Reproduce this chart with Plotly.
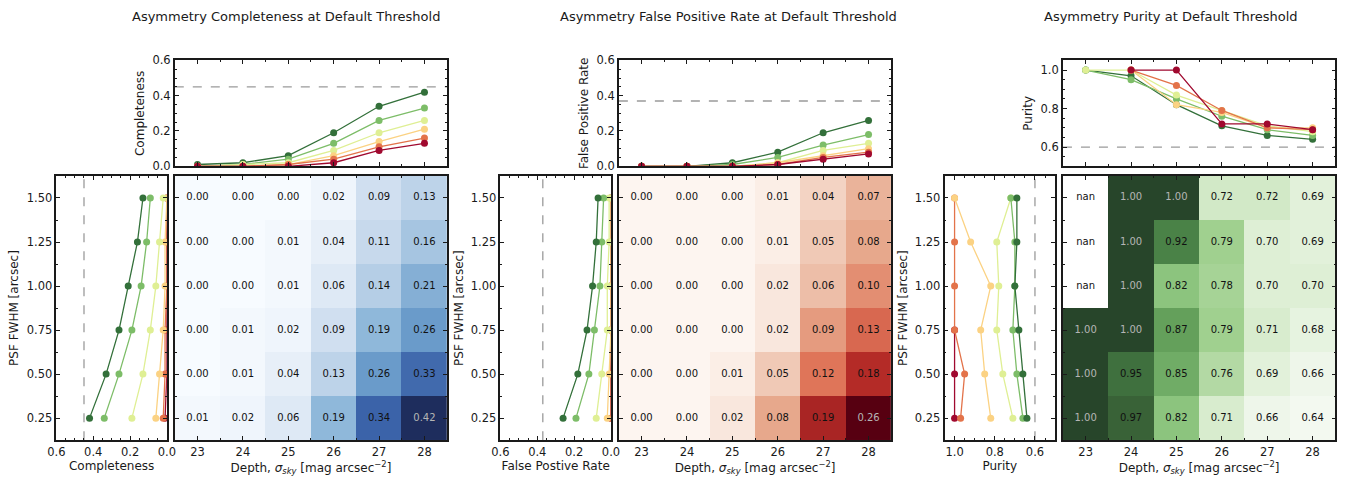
import plotly.graph_objects as go

# ---------------- data ----------------
depths = [23, 24, 25, 26, 27, 28]
psf = [0.25, 0.50, 0.75, 1.00, 1.25, 1.50]

# rows: PSF 0.25 ... 1.50 ; columns: depth 23 ... 28
completeness = [
    [0.01, 0.02, 0.06, 0.19, 0.34, 0.42],
    [0.00, 0.01, 0.04, 0.13, 0.26, 0.33],
    [0.00, 0.01, 0.02, 0.09, 0.19, 0.26],
    [0.00, 0.00, 0.01, 0.06, 0.14, 0.21],
    [0.00, 0.00, 0.01, 0.04, 0.11, 0.16],
    [0.00, 0.00, 0.00, 0.02, 0.09, 0.13],
]
false_positive = [
    [0.00, 0.00, 0.02, 0.08, 0.19, 0.26],
    [0.00, 0.00, 0.01, 0.05, 0.12, 0.18],
    [0.00, 0.00, 0.00, 0.02, 0.09, 0.13],
    [0.00, 0.00, 0.00, 0.02, 0.06, 0.10],
    [0.00, 0.00, 0.00, 0.01, 0.05, 0.08],
    [0.00, 0.00, 0.00, 0.01, 0.04, 0.07],
]
purity = [
    [1.00, 0.97, 0.82, 0.71, 0.66, 0.64],
    [1.00, 0.95, 0.85, 0.76, 0.69, 0.66],
    [1.00, 1.00, 0.87, 0.79, 0.71, 0.68],
    [None, 1.00, 0.82, 0.78, 0.70, 0.70],
    [None, 1.00, 0.92, 0.79, 0.70, 0.69],
    [None, 1.00, 1.00, 0.72, 0.72, 0.69],
]
thresholds = [0.45, 0.37, 0.60]

titles = [
    "Asymmetry Completeness at Default Threshold",
    "Asymmetry False Positive Rate at Default Threshold",
    "Asymmetry Purity at Default Threshold",
]
top_ytitles = ["Completeness", "False Positive Rate", "Purity"]
left_xtitles = ["Completeness", "False Postive Rate", "Purity"]
depth_title = "Depth, <i>σ</i><sub><i>sky</i></sub> [mag arcsec<sup>−2</sup>]"
psf_title = "PSF FWHM [arcsec]"

# ---------------- styles ----------------
W, H = 1368, 486
FONT = "DejaVu Sans"
INK = "#1a1a1a"
level_colors = ["#33703a", "#7dbd68", "#dfef94", "#fbd283", "#e3734a", "#a0092f"]

scales = [
    [[0, "#f7fbff"], [0.14, "#dfe9f5"], [0.31, "#bdd3e9"], [0.45, "#90b8da"],
     [0.62, "#6a9bca"], [0.81, "#3b63a9"], [1, "#1e2d5d"]],
    [[0, "#fdf5f0"], [0.08, "#f9e6dc"], [0.19, "#f0cab7"], [0.31, "#e7a78b"],
     [0.46, "#df7559"], [0.69, "#b52b27"], [1, "#570011"]],
    [[0, "#f3f9f0"], [0.056, "#eef6ea"], [0.167, "#deefd5"], [0.22, "#d3e9c8"],
     [0.33, "#b4d9a5"], [0.417, "#a0d08f"], [0.5, "#8cc47e"], [0.583, "#70ac66"],
     [0.64, "#64a05b"], [0.78, "#4a8247"], [0.88, "#3d6c3c"], [0.93, "#375f35"],
     [1, "#27452a"]],
]
zranges = [(0, 0.42), (0, 0.26), (0.64, 1.0)]
top_yranges = [[0, 0.6], [0, 0.6], [0.5, 1.05]]
left_xranges = [[0.6, 0], [0.6, 0], [1.05, 0.5]]
metric_ticks = [[0, 0.2, 0.4, 0.6], [0, 0.2, 0.4, 0.6], [0.6, 0.8, 1.0]]

datasets = [completeness, false_positive, purity]


def dom_x(a, b):
    return [a / W, b / W]


def dom_y(top, bottom):
    return [1 - bottom / H, 1 - top / H]


def minor(dtick, tick0):
    return dict(ticks="inside", ticklen=2, tickwidth=1, tickcolor=INK,
                dtick=dtick, tick0=tick0)


def axis_style(**kw):
    d = dict(
        showline=True, linecolor=INK, linewidth=1.6, mirror="allticks",
        ticks="inside", ticklen=4, tickwidth=1.2, tickcolor=INK,
        showgrid=False, zeroline=False,
        tickfont=dict(family=FONT, size=11.5, color=INK),
    )
    d.update(kw)
    return d


def ax(n):
    return "x" if n == 1 else f"x{n}"


def ay(n):
    return "y" if n == 1 else f"y{n}"


fig = go.Figure()
layout = dict(
    width=W, height=H, margin=dict(l=0, r=0, t=0, b=0),
    paper_bgcolor="white", plot_bgcolor="white", showlegend=False,
    font=dict(family=FONT, size=11, color=INK),
    shapes=[], annotations=[],
)

for p in range(3):
    data = datasets[p]
    off = 450 * p
    a_top, a_left, a_hm = 3 * p + 1, 3 * p + 2, 3 * p + 3

    # ---- top line plot: metric vs depth, one line per PSF ----
    for i, s in enumerate(psf):
        fig.add_trace(go.Scatter(
            x=depths, y=data[i], mode="lines+markers",
            line=dict(color=level_colors[i], width=1.3),
            marker=dict(color=level_colors[i], size=7),
            xaxis=ax(a_top), yaxis=ay(a_top), hoverinfo="skip",
        ))
    # ---- left line plot: metric vs PSF, one line per depth ----
    for j in range(len(depths)):
        col = [data[i][j] for i in range(len(psf))]
        c = level_colors[len(depths) - 1 - j]
        fig.add_trace(go.Scatter(
            x=col, y=psf, mode="lines+markers",
            line=dict(color=c, width=1.3), marker=dict(color=c, size=7),
            xaxis=ax(a_left), yaxis=ay(a_left), hoverinfo="skip",
        ))
    # ---- heatmap ----
    zmin, zmax = zranges[p]
    fig.add_trace(go.Heatmap(
        x=depths, y=psf, z=data, colorscale=scales[p], zmin=zmin, zmax=zmax,
        showscale=False, xaxis=ax(a_hm), yaxis=ay(a_hm), hoverinfo="skip",
    ))
    vals = [v for row in data for v in row if v is not None]
    vmax = max(vals)
    tx, ty, tt, tc = [], [], [], []
    for i, s in enumerate(psf):
        for j, d in enumerate(depths):
            v = data[i][j]
            tx.append(d)
            ty.append(s)
            tt.append("nan" if v is None else f"{v:.2f}")
            tc.append("#b5b5b5" if (v is not None and v >= 0.98 * vmax) else "#111111")
    fig.add_trace(go.Scatter(
        x=tx, y=ty, text=tt, mode="text",
        textfont=dict(family=FONT, size=10, color=tc),
        xaxis=ax(a_hm), yaxis=ay(a_hm), hoverinfo="skip",
    ))

    # ---- axes ----
    hx = dom_x(168 + off, 444 + off)
    layout[f"xaxis{a_top}"] = axis_style(
        domain=hx, range=[22.5, 28.5], anchor=ay(a_top), tickvals=depths,
        showticklabels=False, minor=minor(0.5, 22.5),
    )
    layout[f"yaxis{a_top}"] = axis_style(
        domain=dom_y(55, 164), range=top_yranges[p], anchor=ax(a_top),
        tickvals=metric_ticks[p], tickformat=".1f",
        title=dict(text=top_ytitles[p], font=dict(family=FONT, size=12), standoff=5),
        minor=minor(0.05, 0),
    )
    layout[f"xaxis{a_left}"] = axis_style(
        domain=dom_x(48 + off, 160 + off), range=left_xranges[p], anchor=ay(a_left),
        tickvals=metric_ticks[p], tickformat=".1f",
        title=dict(text=left_xtitles[p], font=dict(family=FONT, size=12), standoff=4),
        minor=minor(0.05, 0),
    )
    layout[f"yaxis{a_left}"] = axis_style(
        domain=dom_y(174, 446), range=[0.125, 1.625], anchor=ax(a_left),
        tickvals=psf, tickformat=".2f",
        title=dict(text=psf_title, font=dict(family=FONT, size=12), standoff=5),
        minor=minor(0.125, 0.125),
    )
    layout[f"xaxis{a_hm}"] = axis_style(
        domain=hx, range=[22.5, 28.5], anchor=ay(a_hm), tickvals=depths,
        title=dict(text=depth_title, font=dict(family=FONT, size=12), standoff=4),
        minor=minor(0.5, 22.5),
    )
    layout[f"yaxis{a_hm}"] = axis_style(
        domain=dom_y(174, 446), range=[0.125, 1.625], anchor=ax(a_hm),
        tickvals=psf, showticklabels=False, minor=minor(0.125, 0.125),
    )

    # ---- threshold lines ----
    thr = thresholds[p]
    layout["shapes"].append(dict(
        type="line", xref=f"{ax(a_top)} domain", yref=ay(a_top),
        x0=0, x1=1, y0=thr, y1=thr, layer="below",
        line=dict(color="#9a9a9a", width=1.3, dash="dash"),
    ))
    layout["shapes"].append(dict(
        type="line", xref=ax(a_left), yref=f"{ay(a_left)} domain",
        x0=thr, x1=thr, y0=0, y1=1, layer="below",
        line=dict(color="#9a9a9a", width=1.3, dash="dash"),
    ))

    # ---- title ----
    layout["annotations"].append(dict(
        text=titles[p], xref="paper", yref="paper",
        x=(281 + 448 * p) / W, y=1 - 10 / H, xanchor="center", yanchor="middle",
        showarrow=False, font=dict(family=FONT, size=13, color=INK),
    ))

fig.update_layout(**layout)
fig.write_html("out.html")
